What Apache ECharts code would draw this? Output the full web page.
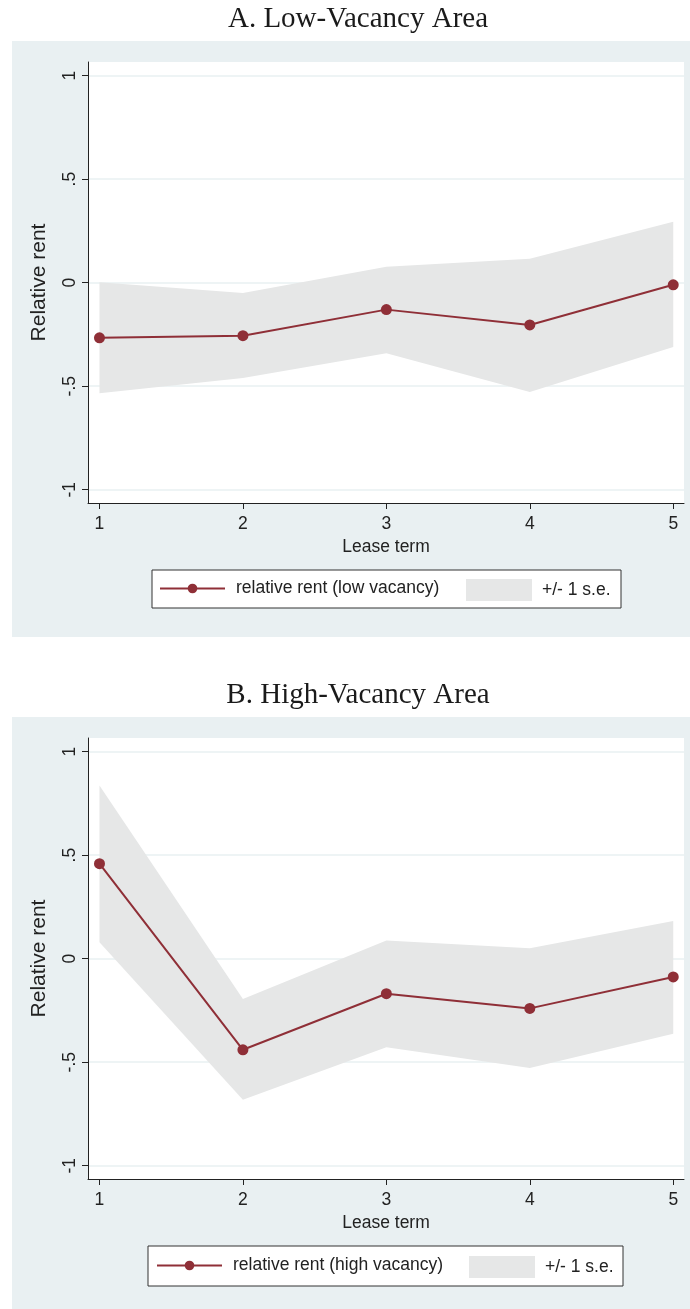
<!DOCTYPE html>
<html>
<head>
<meta charset="utf-8">
<script src="https://cdn.jsdelivr.net/npm/echarts@6/dist/echarts.min.js"></script>
<style>
  html, body { margin: 0; padding: 0; background: #ffffff; }
  #chart { width: 690px; height: 1309px; }
</style>
</head>
<body>
<div id="chart"></div>
<script>
// Lease terms (x) and estimates with +/- 1 s.e. bounds for each area
const leaseTerms = [1, 2, 3, 4, 5];

const lowMean  = [-0.266, -0.256, -0.130, -0.204, -0.010];
const lowUpper = [ 0.002, -0.050,  0.077,  0.116,  0.294];
const lowLower = [-0.534, -0.460, -0.341, -0.528, -0.311];

const highMean  = [ 0.459, -0.440, -0.169, -0.240, -0.088];
const highUpper = [ 0.836, -0.195,  0.088,  0.050,  0.182];
const highLower = [ 0.079, -0.681, -0.428, -0.528, -0.362];

const yTicks = [-1, -0.5, 0, 0.5, 1];
const yTickLabels = ['-1', '-.5', '0', '.5', '1'];
const xTicks = [1, 2, 3, 4, 5];

const panelTitles = ['A. Low-Vacancy Area', 'B. High-Vacancy Area'];
const lineNames = ['relative rent (low vacancy)', 'relative rent (high vacancy)'];
const bandName = '+/- 1 s.e.';

const LINE_COLOR = '#8f2f37';
const BAND_COLOR = '#e6e7e7';
const REGION_BG = '#e9f0f2';
const GRID_LINE = '#e9f0f2';
const AXIS_COLOR = '#222222';
const SANS = 'Liberation Sans, Arial, Helvetica, sans-serif';
const SERIF = 'Liberation Serif, Times New Roman, serif';

const pairs = (xs, ys) => xs.map((x, i) => [x, ys[i]]);

const chart = echarts.init(document.getElementById('chart'), null, { renderer: 'canvas' });

const PANEL_SHIFT = 676;
const grids = [0, 1].map(p => ({
  left: 88, right: 6, top: 62 + p * PANEL_SHIFT, height: 441,
  show: true, backgroundColor: '#ffffff', borderWidth: 0, containLabel: false
}));

const xAxes = [0, 1].map(p => ({
  type: 'value', gridIndex: p, min: 0.92, max: 5.075,
  name: 'Lease term', nameLocation: 'middle', nameGap: 35,
  nameTextStyle: { fontFamily: SANS, fontSize: 17.5, color: AXIS_COLOR },
  axisLine: { show: true, onZero: false, lineStyle: { color: AXIS_COLOR, width: 1 } },
  axisTick: { show: true, length: 6, customValues: xTicks, lineStyle: { color: AXIS_COLOR } },
  axisLabel: { customValues: xTicks, margin: 12, fontFamily: SANS, fontSize: 17.5, color: AXIS_COLOR },
  splitLine: { show: false }
}));

const yAxes = [0, 1].map(p => ({
  type: 'value', gridIndex: p, min: -1.064, max: 1.066,
  name: 'Relative rent', nameLocation: 'middle', nameGap: 38, nameRotate: 90,
  nameTextStyle: { fontFamily: SANS, fontSize: 21, color: AXIS_COLOR },
  axisLine: { show: true, onZero: false, lineStyle: { color: AXIS_COLOR, width: 1 } },
  axisTick: { show: true, length: 6, customValues: yTicks, lineStyle: { color: AXIS_COLOR } },
  axisLabel: {
    customValues: yTicks, rotate: 90, margin: 9,
    fontFamily: SANS, fontSize: 17.5, color: AXIS_COLOR,
    formatter: v => yTickLabels[yTicks.indexOf(+(+v).toFixed(2))]
  },
  splitLine: { show: true, lineStyle: { color: GRID_LINE, width: 1.5 } }
}));

function panelSeries(p, mean, upper, lower) {
  return [
    {
      // shaded +/- 1 s.e. band: one polygon through the upper bounds and back along the lower bounds
      name: bandName, type: 'custom', xAxisIndex: p, yAxisIndex: p,
      data: leaseTerms.map((x, i) => [x, lower[i], upper[i]]),
      encode: { x: 0, y: [1, 2] },
      itemStyle: { color: BAND_COLOR },
      silent: true, z: 2,
      renderItem: (params, api) => {
        if (params.dataIndex !== 0) return null;
        const top = leaseTerms.map((x, i) => api.coord([x, upper[i]]));
        const bottom = leaseTerms.map((x, i) => api.coord([x, lower[i]])).reverse();
        return {
          type: 'polygon',
          shape: { points: top.concat(bottom) },
          style: { fill: BAND_COLOR, stroke: null }
        };
      }
    },
    {
      name: lineNames[p], type: 'line', xAxisIndex: p, yAxisIndex: p,
      data: pairs(leaseTerms, mean),
      symbol: 'circle', symbolSize: 11,
      itemStyle: { color: LINE_COLOR },
      lineStyle: { color: LINE_COLOR, width: 2 }, z: 4
    }
  ];
}

const legendText = (pad) => ({ fontFamily: SANS, fontSize: 17.5, color: AXIS_COLOR, padding: [0, 0, 0, pad] });
const legends = [
  { left: 159, top: 579.5, data: [lineNames[0]], itemWidth: 65, itemHeight: 12 },
  { left: 466, top: 579, data: [{ name: bandName, icon: 'rect', itemStyle: { color: BAND_COLOR } }], itemWidth: 66, itemHeight: 22 },
  { left: 156, top: 1256.5, data: [lineNames[1]], itemWidth: 65, itemHeight: 12 },
  { left: 469, top: 1256, data: [{ name: bandName, icon: 'rect', itemStyle: { color: BAND_COLOR } }], itemWidth: 66, itemHeight: 22 }
].map((l, i) => Object.assign({
  orient: 'horizontal', padding: 0, selectedMode: false,
  textStyle: legendText(i % 2 === 0 ? 6 : 5)
}, l));

// panel backgrounds, legend frames and panel headings
const graphics = [
  { type: 'rect', z: -10, shape: { x: 12, y: 41, width: 678, height: 596 }, style: { fill: REGION_BG } },
  { type: 'rect', z: -10, shape: { x: 12, y: 717, width: 678, height: 592 }, style: { fill: REGION_BG } },
  { type: 'rect', z: 1, shape: { x: 152, y: 570, width: 469, height: 38 }, style: { fill: '#ffffff', stroke: '#333333', lineWidth: 1 } },
  { type: 'rect', z: 1, shape: { x: 148, y: 1246, width: 475, height: 40 }, style: { fill: '#ffffff', stroke: '#333333', lineWidth: 1 } },
  { type: 'text', z: 5, x: 358, y: 19, style: { text: panelTitles[0], font: '29px ' + SERIF, fill: '#1a1a1a', textAlign: 'center', textVerticalAlign: 'middle' } },
  { type: 'text', z: 5, x: 358, y: 695, style: { text: panelTitles[1], font: '29px ' + SERIF, fill: '#1a1a1a', textAlign: 'center', textVerticalAlign: 'middle' } }
];

chart.setOption({
  animation: false,
  backgroundColor: '#ffffff',
  grid: grids,
  xAxis: xAxes,
  yAxis: yAxes,
  legend: legends,
  graphic: graphics,
  series: [
    ...panelSeries(0, lowMean, lowUpper, lowLower),
    ...panelSeries(1, highMean, highUpper, highLower)
  ]
});
</script>
</body>
</html>
